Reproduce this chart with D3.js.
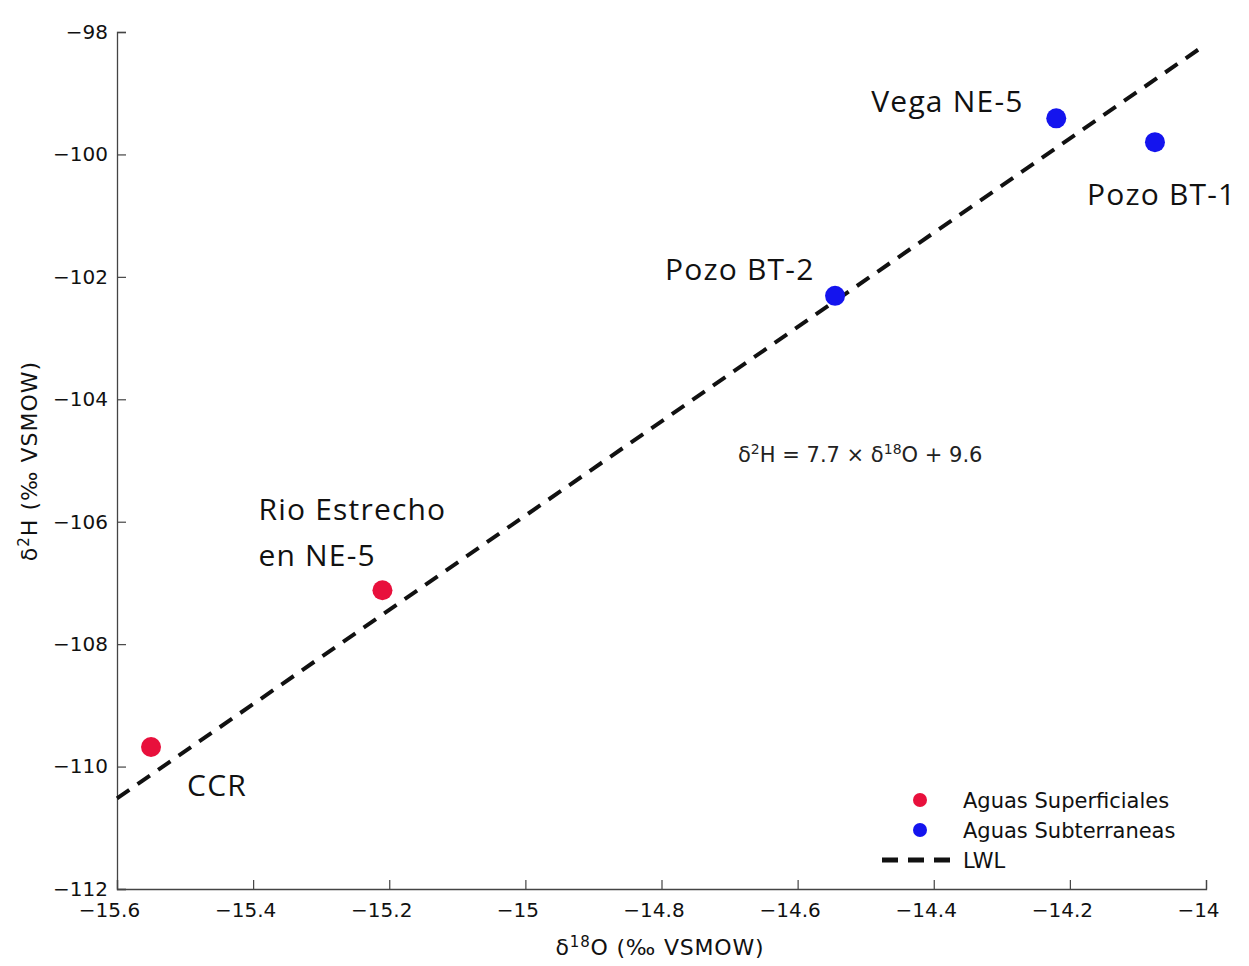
<!DOCTYPE html>
<html>
<head>
<meta charset="utf-8">
<script src="https://cdn.jsdelivr.net/npm/d3@7"></script>
<style>
  body { margin: 0; background: #fff; }
  text { font-family: "DejaVu Sans", "Liberation Sans", sans-serif; }
</style>
</head>
<body>
<div id="chart"></div>
<script>
const sampleNames = ['CCR', 'Rio Estrecho en NE-5', 'Pozo BT-2', 'Vega NE-5', 'Pozo BT-1']
const sampleGroups = ['sup', 'sup', 'sub', 'sub', 'sub']
const d18O = [-15.55, -15.21, -14.545, -14.22, -14.075]
const d2H = [-109.68, -107.12, -102.31, -99.41, -99.80]

const lwlX = [-15.6, -14.0]
const lwlY = [-110.52, -98.2]

const xTicks = [-15.6, -15.4, -15.2, -15, -14.8, -14.6, -14.4, -14.2, -14]
const yTicks = [-112, -110, -108, -106, -104, -102, -100, -98]

const groupColors = { sup: '#e8103c', sub: '#1414ee' }
const legendItems = [
    { key: 'sup', label: 'Aguas Superficiales' },
    { key: 'sub', label: 'Aguas Subterraneas' },
    { key: 'lwl', label: 'LWL' },
]

function drawChart() {
    const config = {
        width: 1249,
        height: 966,
        margin: { left: 117, right: 43, top: 32, bottom: 77 },
    }
    const innerW = config.width - config.margin.left - config.margin.right
    const innerH = config.height - config.margin.top - config.margin.bottom

    const svg = d3.select('#chart')
        .append('svg')
        .attr('width', config.width)
        .attr('height', config.height)

    const root = svg.append('g')
        .attr('transform', `translate(${config.margin.left}, ${config.margin.top})`)

    const scaleX = d3.scaleLinear().domain([-15.6, -14]).range([0, innerW])
    const scaleY = d3.scaleLinear().domain([-112, -98]).range([innerH, 0])

    const minus = d => String(d).replace('-', '\u2212')

    const xAxis = root.append('g')
        .attr('transform', `translate(0, ${innerH})`)
        .call(d3.axisBottom(scaleX).tickValues(xTicks).tickSize(-9).tickPadding(19).tickFormat(minus))
    const yAxis = root.append('g')
        .call(d3.axisLeft(scaleY).tickValues(yTicks).tickSize(-9).tickPadding(9).tickFormat(minus))

    for (const ax of [xAxis, yAxis]) {
        ax.select('.domain').attr('stroke', '#444').attr('stroke-width', 1.3)
        ax.selectAll('.tick line').attr('stroke', '#444').attr('stroke-width', 1.2)
        ax.selectAll('.tick text')
            .attr('fill', '#111')
            .style('font-size', '20px')
            .style('font-family', '"DejaVu Sans", sans-serif')
    }
    // MATLAB-style labels sit a little left of their ticks
    xAxis.selectAll('.tick text').attr('dy', '0.45em').attr('dx', -8)

    // axis titles
    const xt = root.append('text')
        .attr('x', 660 - config.margin.left)
        .attr('y', innerH + 66)
        .attr('text-anchor', 'middle')
        .style('font-size', '22px')
        .style('letter-spacing', '0.8px')
        .attr('fill', '#111')
    xt.append('tspan').text('\u03b4')
    xt.append('tspan').attr('dy', -8).style('font-size', '15px').text('18')
    xt.append('tspan').attr('dy', 8).text('O (\u2030 VSMOW)')

    const yt = root.append('text')
        .attr('transform', `translate(${-80}, ${461 - config.margin.top}) rotate(-90)`)
        .attr('text-anchor', 'middle')
        .style('font-size', '22px')
        .style('letter-spacing', '1px')
        .attr('fill', '#111')
    yt.append('tspan').text('\u03b4')
    yt.append('tspan').attr('dy', -8).style('font-size', '15px').text('2')
    yt.append('tspan').attr('dy', 8).text('H (\u2030 VSMOW)')

    // LWL dashed line
    const lwlPts = lwlX.map((x, i) => [x, lwlY[i]])
    root.append('path')
        .datum(lwlPts)
        .attr('fill', 'none')
        .attr('stroke', '#111')
        .attr('stroke-width', 4)
        .attr('stroke-dasharray', '15,10')
        .attr('d', d3.line().x(d => scaleX(d[0])).y(d => scaleY(d[1])))

    // samples
    const samples = sampleNames.map((name, i) => ({
        name, group: sampleGroups[i], x: d18O[i], y: d2H[i]
    }))
    root.selectAll('circle.sample')
        .data(samples)
        .enter()
        .append('circle')
        .attr('class', 'sample')
        .attr('cx', d => scaleX(d.x))
        .attr('cy', d => scaleY(d.y))
        .attr('r', 10)
        .attr('fill', d => groupColors[d.group])

    // sample labels (offsets in px from each point)
    const labelOffsets = {
        'CCR': [[36, 49]],
        'Rio Estrecho en NE-5': [[-124, -70, 'Rio Estrecho'], [-124, -24, 'en NE-5']],
        'Pozo BT-2': [[-170, -16]],
        'Vega NE-5': [[-185, -6]],
        'Pozo BT-1': [[-68, 63]],
    }
    samples.forEach(d => {
        labelOffsets[d.name].forEach(o => {
            root.append('text')
                .attr('x', scaleX(d.x) + o[0])
                .attr('y', scaleY(d.y) + o[1])
                .style('font-family', '"Open Sans", Lato, sans-serif')
                .style('font-size', '30px')
                .style('letter-spacing', '1.2px')
                .attr('fill', '#111')
                .text(o[2] || d.name)
        })
    })

    // equation
    const eq = root.append('text')
        .attr('x', 738 - config.margin.left)
        .attr('y', 462 - config.margin.top)
        .style('font-size', '21px')
        .attr('fill', '#222')
    eq.append('tspan').text('\u03b4')
    eq.append('tspan').attr('dy', -8).style('font-size', '14px').text('2')
    eq.append('tspan').attr('dy', 8).text('H = 7.7 \u00d7 \u03b4')
    eq.append('tspan').attr('dy', -8).style('font-size', '14px').text('18')
    eq.append('tspan').attr('dy', 8).text('O + 9.6')

    // legend
    const legend = svg.append('g').attr('transform', 'translate(882, 800)')
    const rows = legend.selectAll('g')
        .data(legendItems)
        .enter()
        .append('g')
        .attr('transform', (d, i) => `translate(0, ${i * 30})`)
    rows.filter(d => d.key !== 'lwl')
        .append('circle')
        .attr('cx', 38)
        .attr('cy', 0)
        .attr('r', 7)
        .attr('fill', d => groupColors[d.key])
    rows.filter(d => d.key === 'lwl')
        .append('line')
        .attr('x1', 0).attr('x2', 74)
        .attr('y1', 0).attr('y2', 0)
        .attr('stroke', '#111')
        .attr('stroke-width', 5)
        .attr('stroke-dasharray', '16,10')
    rows.append('text')
        .attr('x', 81)
        .attr('y', 8)
        .style('font-size', '21px')
        .attr('fill', '#111')
        .text(d => d.label)
}

drawChart()
</script>
</body>
</html>
